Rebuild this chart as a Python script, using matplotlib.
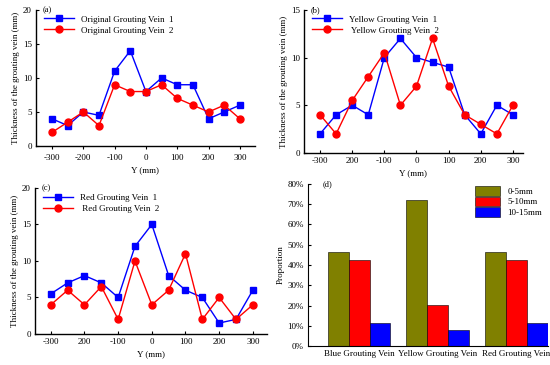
import matplotlib
matplotlib.use("Agg")
import matplotlib.pyplot as plt
import matplotlib.ticker as mticker
import numpy as np

plt.rcParams["font.family"] = ["Liberation Serif", "DejaVu Serif"]
plt.rcParams["font.size"] = 6.5

BLUE = "#0000FF"
RED = "#FF0000"
OLIVE = "#808000"

# ---------------------------------------------------------------------------
# Data
# ---------------------------------------------------------------------------
y_pos = [-300, -250, -200, -150, -100, -50, 0, 50, 100, 150, 200, 250, 300]

orig_vein1 = [4, 3, 5, 4.5, 11, 14, 8, 10, 9, 9, 4, 5, 6]
orig_vein2 = [2, 3.5, 5, 3, 9, 8, 8, 9, 7, 6, 5, 6, 4]

yellow_vein1 = [2, 4, 5, 4, 10, 12, 10, 9.5, 9, 4, 2, 5, 4]
yellow_vein2 = [4, 2, 5.5, 8, 10.5, 5, 7, 12, 7, 4, 3, 2, 5]

red_vein1 = [5.5, 7, 8, 7, 5, 12, 15, 8, 6, 5, 1.5, 2, 6]
red_vein2 = [4, 6, 4, 6.5, 2, 10, 4, 6, 11, 2, 5, 2, 4]

tick_pos = [-300, -200, -100, 0, 100, 200, 300]
tick_lbl_a = ["-300", "-200", "-100", "0", "100", "200", "300"]
tick_lbl_bc = ["-300", "200", "-100", "0", "100", "200", "300"]

veins = ["Blue Grouting Vein", "Yellow Grouting Vein", "Red Grouting Vein"]
ranges = ["0-5mm", "5-10mm", "10-15mm"]
prop_0_5 = [0.462, 0.72, 0.462]
prop_5_10 = [0.423, 0.203, 0.423]
prop_10_15 = [0.115, 0.077, 0.115]


# ---------------------------------------------------------------------------
# Helpers
# ---------------------------------------------------------------------------

def line_panel(ax, v1, v2, names, ymax, xlim, labels, tickdir, tag):
    ax.plot(y_pos, v1, color=BLUE, marker="s", markersize=4.5, linewidth=1.0,
            label=names[0])
    ax.plot(y_pos, v2, color=RED, marker="o", markersize=5, linewidth=1.0,
            label=names[1])
    ax.set_xlim(*xlim)
    ax.set_ylim(0, ymax)
    ax.set_yticks(np.arange(0, ymax + 1, 5))
    ax.set_xticks(tick_pos)
    ax.set_xticklabels(labels)
    ax.tick_params(axis="x", direction=tickdir, length=2.5, width=0.8, pad=3)
    ax.tick_params(axis="y", direction="in", length=2.5, width=0.8, pad=3)
    ax.spines["top"].set_visible(False)
    ax.spines["right"].set_visible(False)
    for s in ("left", "bottom"):
        ax.spines[s].set_linewidth(1.0)
    ax.set_xlabel("Y (mm)", labelpad=3)
    ax.set_ylabel("Thickness of the grouting vein (mm)", labelpad=2)
    ax.text(0.03, 1.0, tag, transform=ax.transAxes, ha="left", va="center",
            fontsize=6)
    ax.legend(loc="upper left", bbox_to_anchor=(0.01, 1.0), frameon=False,
              handlelength=3.4, borderaxespad=0.2, labelspacing=0.3,
              handletextpad=0.7)


# ---------------------------------------------------------------------------
# Figure
# ---------------------------------------------------------------------------
fig = plt.figure(figsize=(5.5, 3.65), dpi=100)

ax_a = fig.add_axes([0.0655, 0.600, 0.398, 0.373])
line_panel(ax_a, orig_vein1, orig_vein2,
           ["Original Grouting Vein  1", "Original Grouting Vein  2"],
           20, (-351, 348), tick_lbl_a, "out", "(a)")

ax_b = fig.add_axes([0.5527, 0.581, 0.398, 0.392])
line_panel(ax_b, yellow_vein1, yellow_vein2,
           ["Yellow Grouting Vein  1", " Yellow Grouting Vein  2"],
           15, (-350, 331), tick_lbl_bc, "in", "(b)")

ax_c = fig.add_axes([0.0636, 0.085, 0.4218, 0.400])
line_panel(ax_c, red_vein1, red_vein2,
           ["Red Grouting Vein  1", " Red Grouting Vein  2"],
           20, (-347, 342), tick_lbl_bc, "in", "(c)")

# --- Panel (d): proportion bars ---
ax_d = fig.add_axes([0.560, 0.052, 0.436, 0.444])
x = np.arange(len(veins))
w = 0.266
for off, vals, col, lab in [(-w, prop_0_5, OLIVE, ranges[0]),
                            (0, prop_5_10, RED, ranges[1]),
                            (w, prop_10_15, BLUE, ranges[2])]:
    ax_d.bar(x + off, vals, width=w, color=col, edgecolor="black",
             linewidth=0.4, label=lab)
ax_d.set_xlim(-0.65, 2.4)
ax_d.set_ylim(0, 0.8)
ax_d.set_yticks(np.arange(0, 0.81, 0.1))
ax_d.yaxis.set_major_formatter(mticker.PercentFormatter(1.0, decimals=0))
ax_d.set_xticks(x)
ax_d.set_xticklabels(veins)
ax_d.tick_params(axis="x", length=0, pad=3)
ax_d.tick_params(axis="y", direction="in", length=2.5, width=0.8, pad=3)
ax_d.spines["top"].set_visible(False)
ax_d.spines["right"].set_visible(False)
ax_d.set_ylabel("Proportion", labelpad=2)
ax_d.text(0.06, 1.0, "(d)", transform=ax_d.transAxes, ha="left", va="center",
          fontsize=6)
ax_d.legend(loc="upper right", bbox_to_anchor=(1.0, 1.02), frameon=False,
            handlelength=2.8, handleheight=1.3, labelspacing=0.05,
            handletextpad=0.8, borderaxespad=0.2)

fig.savefig("out.png", dpi=100)
plt.close(fig)
